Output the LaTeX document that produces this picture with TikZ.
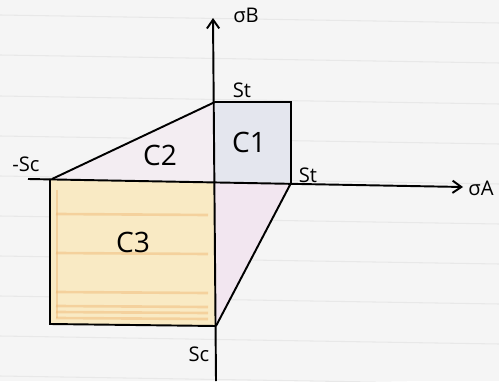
\documentclass[tikz,border=0pt]{standalone}
\usepackage{fontspec}
\setmainfont{Open Sans}
\usetikzlibrary{arrows.meta}
\begin{document}
\begin{tikzpicture}[x=0.02cm,y=-0.02cm,
  axis/.style={line width=1.1pt,-{Straight Barb[length=5pt,width=7pt]}},
  edge/.style={line width=1.1pt},
  paperline/.style={line width=0.6pt,draw=black!9},
  streak/.style={line width=1.5pt,draw={rgb,255:red,238;green,180;blue,110},opacity=0.45},
  big/.style={font=\fontsize{16}{16}\selectfont,inner sep=0pt},
  small/.style={font=\fontsize{11.5}{11.5}\selectfont,inner sep=0pt}]
\useasboundingbox (0,0) rectangle (499,381);
\fill[black!4] (0,0) rectangle (499,381);
% lined paper
\foreach \y in {15,55,96,136,176,216,256,296,336,376}
  \draw[paperline] (0,\y) -- (499,\y+8);
% coordinates
\coordinate (O) at (215,182);
\coordinate (Btop) at (213,18);
\coordinate (Bbot) at (216,381);
\coordinate (Aleft) at (28,179);
\coordinate (Aright) at (463,187);
\coordinate (c1tl) at (215,102);
\coordinate (c1tr) at (291,102);
\coordinate (c1br) at (291,183);
\coordinate (c2l) at (52,179);
\coordinate (c3tl) at (50,179);
\coordinate (c3bl) at (50,324);
\coordinate (c3br) at (216,326);
% fills
\fill[fill={rgb,255:red,228;green,230;blue,238}] (c1tl) -- (c1tr) -- (c1br) -- (O) -- cycle;
\fill[fill={rgb,255:red,243;green,237;blue,242}] (c1tl) -- (c2l) -- (O) -- cycle;
\fill[fill={rgb,255:red,249;green,234;blue,196}] (c3tl) -- (O) -- (c3br) -- (c3bl) -- cycle;
\foreach \y in {214,253,292,306,312,318}
  \draw[streak] (56,\y) -- (208,\y+1);
\draw[streak] (57,190) -- (57,318);
\fill[fill={rgb,255:red,242;green,230;blue,240}] (O) -- (c1br) -- (c3br) -- cycle;
% axes
\draw[axis] (Bbot) -- (Btop);
\draw[axis] (Aleft) -- (Aright);
% edges
\draw[edge] (c1tl) -- (c1tr) -- (c1br);
\draw[edge] (c1tl) -- (c2l);
\draw[edge] (c3tl) -- (c3bl) -- (c3br);
\draw[edge] (c1br) -- (c3br);
% labels
\node[big] (lc1) at (249,142) {C1};
\node[big] (lc2) at (160,155) {C2};
\node[big] (lc3) at (133,242) {C3};
\node[small] (lst1) at (242,90) {St};
\node[small] (lst2) at (308,175) {St};
\node[small] (lsc1) at (26,164) {-Sc};
\node[small] (lsc2) at (199,354) {Sc};
\node[small] (lsb) at (246,15) {σB};
\node[small] (lsa) at (481,188) {σA};
\end{tikzpicture}
\end{document}
